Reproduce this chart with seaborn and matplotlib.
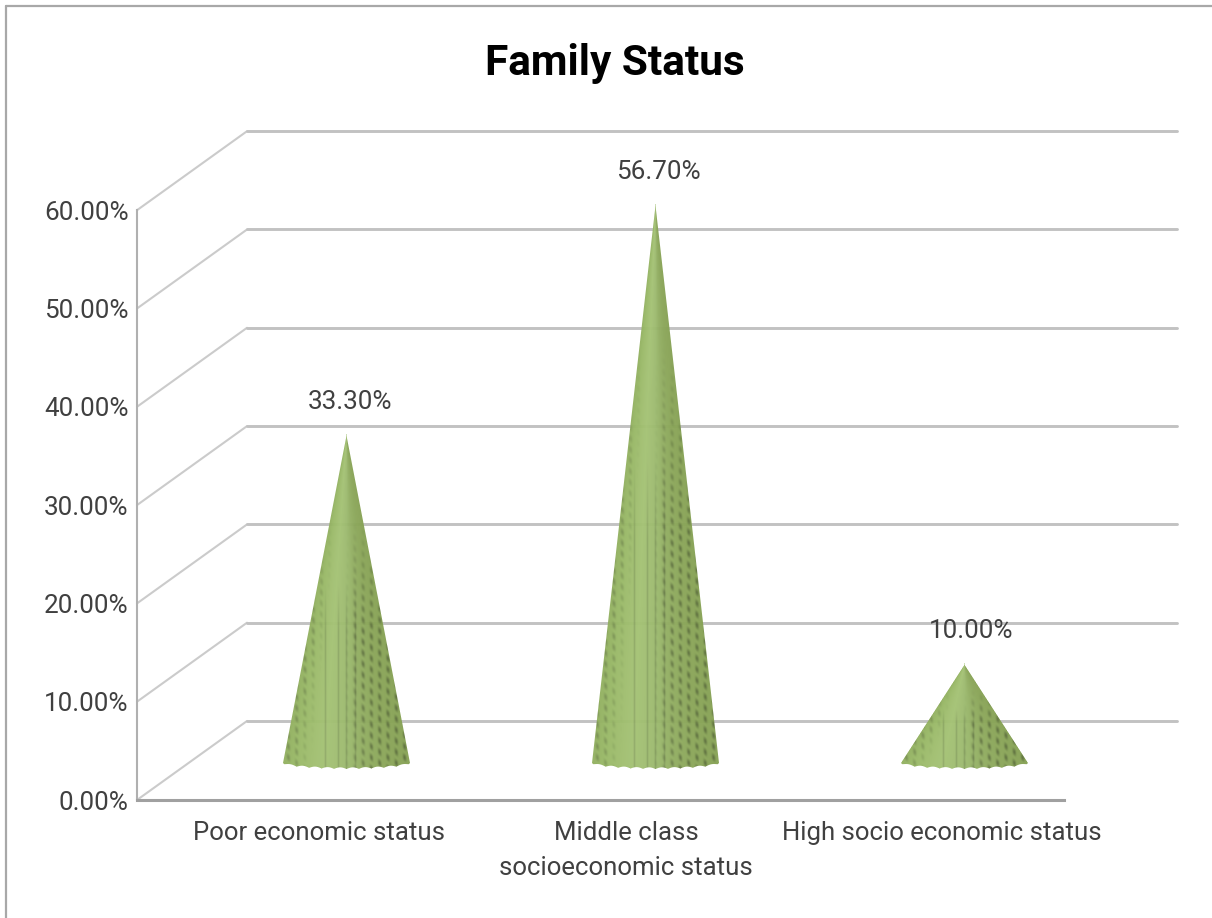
import numpy as np
import pandas as pd
import matplotlib
matplotlib.use("Agg")
import matplotlib.pyplot as plt
from matplotlib.lines import Line2D
import seaborn as sns

categories = ["Poor economic status", "Middle class\nsocioeconomic status", "High socio economic status"]
values = [33.3, 56.7, 10.0]
value_labels = ["33.30%", "56.70%", "10.00%"]
y_ticks = [0, 10, 20, 30, 40, 50, 60]
y_tick_labels = ["0.00%", "10.00%", "20.00%", "30.00%", "40.00%", "50.00%", "60.00%"]
title = "Family Status"

W, H = 1212, 918
sns.set_theme(style="white")
plt.rcParams["font.family"] = ["Roboto", "DejaVu Sans"]
fig = plt.figure(figsize=(W / 100, H / 100), dpi=100, facecolor="white")

# pixel geometry of the pseudo-3D box
L, B, R, T = 137, 800, 1177, 132
ax = fig.add_axes([L / W, (H - B) / H, (R - L) / W, (B - T) / H])
PX_CAT = 309.0
PX_VAL = 9.83
ax.set_xlim(-0.5, -0.5 + (R - L) / PX_CAT)
ax.set_ylim(0, (B - T) / PX_VAL)
DX = 110 / PX_CAT
DY = 79 / PX_VAL

def px_x(n):
    return n / PX_CAT
def px_y(n):
    return n / PX_VAL

# wall gridlines + side-wall diagonals
for v in y_ticks:
    diag = pd.DataFrame({"x": [-0.5, -0.5 + DX], "y": [v, v + DY]})
    sns.lineplot(data=diag, x="x", y="y", ax=ax, color="#cbcbcb", lw=1.5, sort=False,
                 estimator=None, zorder=1, clip_on=False)
    back = pd.DataFrame({"x": [-0.5 + DX, -0.5 + (R - L) / PX_CAT], "y": [v + DY, v + DY]})
    sns.lineplot(data=back, x="x", y="y", ax=ax, color="#c2c2c2", lw=2.1, sort=False,
                 estimator=None, zorder=1, clip_on=False)

# cones
CENTER_SHIFT = 55 / PX_CAT
BASE_SHIFT = 37 / PX_VAL
HALF = 63.5
ELL = 6.0
ramp_x = np.array([-1.0, -0.75, -0.35, 0.0, 0.25, 0.6, 1.0])
ramp_c = np.array([[146, 176, 96], [154, 186, 104], [164, 194, 116], [156, 186, 110],
                   [146, 174, 98], [138, 166, 88], [134, 162, 84]], float)
label_dx = [2.2, 2.2, 4.5]
for i, val in enumerate(values):
    cx = i + CENTER_SHIFT
    base = BASE_SHIFT
    hpx = val * PX_VAL
    xp = np.arange(-HALF - 1, HALF + 2, 1.0)
    yp = np.arange(-8.0, hpx + 2, 1.0)
    xc = (xp[:-1] + xp[1:]) / 2
    yc = (yp[:-1] + yp[1:]) / 2
    XX, YY = np.meshgrid(xc, yc)
    half_w = HALF * np.clip(1 - YY / hpx, 0, 1)
    u = XX / np.maximum(half_w, 1e-6)
    ub = np.clip(XX / HALF, -1, 1)
    lower = -ELL * np.sqrt(1 - ub ** 2) + 1.6 * np.abs(np.sin(ub * 16))
    edge_a = np.clip(half_w - np.abs(XX) + 0.5, 0, 1)
    low_a = np.clip(YY - lower + 0.5, 0, 1)
    uc = np.clip(u, -1, 1)
    rgb = np.stack([np.interp(uc, ramp_x, ramp_c[:, k]) for k in range(3)], axis=-1)
    # rendered facet texture: vertical streaks and a lattice towards the right
    streak = 0.5 + 0.5 * np.cos(2 * np.pi * XX / 8.3)
    rows = 0.5 + 0.5 * np.cos(2 * np.pi * (YY / 11.0 + XX / 16.6))
    fade = np.clip((hpx * 0.75 - YY) / (hpx * 0.35), 0, 1)
    dark_r = np.clip((uc + 0.05) / 0.4, 0, 1) * streak ** 2 * rows * fade * 0.30
    dark_l = np.clip((-uc - 0.55) / 0.3, 0, 1) * streak ** 2 * rows * fade * 0.18
    # a few long straight streaks near the axis of the cone
    centre = sum(np.exp(-((XX - c) / 1.0) ** 2) for c in (-21, -8, 0, 9))
    centre = centre * np.clip((hpx * 0.55 - YY) / (hpx * 0.15), 0, 1) * 0.12
    rgb = rgb * (1 - dark_r - dark_l - centre)[..., None]
    rgba = np.dstack([np.clip(rgb, 0, 255) / 255, edge_a * low_a * 0.96])
    ax.pcolormesh(cx + px_x(xp), base + px_y(yp), rgba, shading="flat", zorder=3,
                  rasterized=True, clip_on=False)
    ax.annotate(value_labels[i], (cx, base + val), xytext=(label_dx[i], 24.2), textcoords="offset points",
                ha="center", va="center", fontsize=18.7, color="#404040", zorder=5,
                annotation_clip=False)

# axes
for s in ["top", "right"]:
    ax.spines[s].set_visible(False)
ax.spines["left"].set_bounds(0, 60)
ax.spines["left"].set_color("#b0b0b0")
ax.spines["left"].set_linewidth(1.5)
ax.spines["bottom"].set_bounds(-0.5, 2.5)
ax.spines["bottom"].set_color("#a0a0a0")
ax.spines["bottom"].set_linewidth(2.2)
ax.set_xlabel("")
ax.set_ylabel("")
ax.set_yticks(y_ticks)
ax.set_yticklabels(y_tick_labels, fontsize=18.7, color="#404040")
ax.set_xticks([0.089, 1.083, 2.105])
ax.set_xticklabels(categories, fontsize=18.5, color="#404040", linespacing=1.57, va="top")
ax.tick_params(axis="y", length=0, pad=6)
ax.tick_params(axis="x", length=0, pad=15)
ax.patch.set_alpha(0)

fig.text(615 / W, 1 - 64 / H, title, ha="center", va="center", fontsize=30.5, fontweight="bold", color="black")

# chart frame
fig.add_artist(Line2D([6 / W, 6 / W], [0, 1 - 6 / H], color="#a8a8a8", lw=1.6, transform=fig.transFigure))
fig.add_artist(Line2D([6 / W, 1], [1 - 6 / H, 1 - 6 / H], color="#a8a8a8", lw=1.6, transform=fig.transFigure))

fig.savefig("out.png", dpi=100, facecolor="white")
